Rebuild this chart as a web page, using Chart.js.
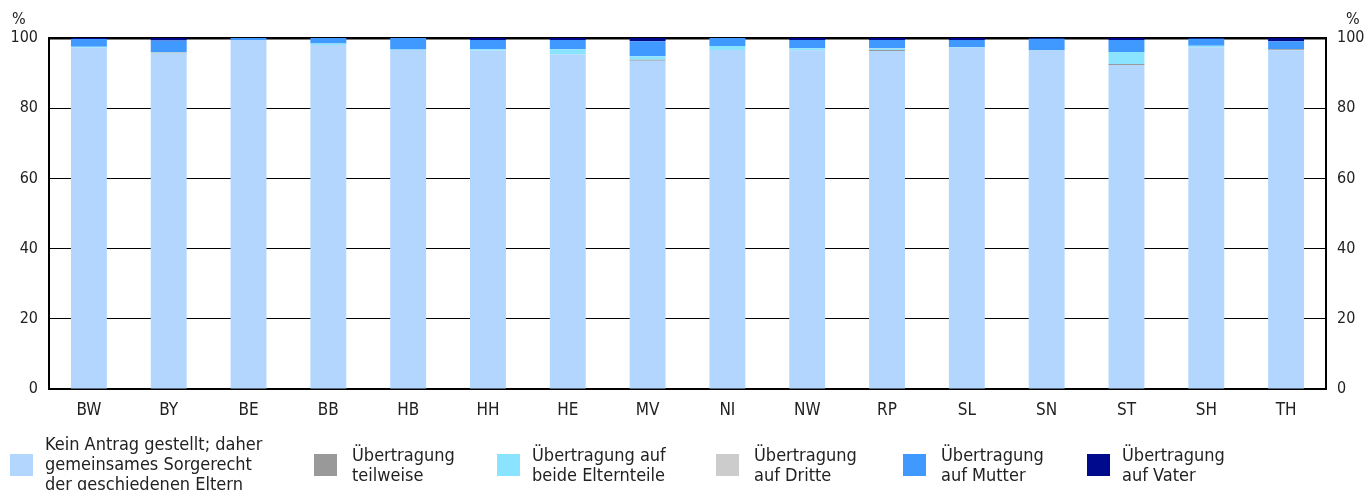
<!DOCTYPE html>
<html>
<head>
<meta charset="utf-8">
<script src="https://cdn.jsdelivr.net/npm/chart.js@4/dist/chart.umd.min.js"></script>
<style>
  html, body { margin: 0; padding: 0; background: #fff; }
  body { width: 1370px; height: 490px; overflow: hidden; position: relative;
         font-family: "Liberation Sans Narrow", "DejaVu Sans Condensed", sans-serif; }
  #wrap { position: absolute; left: 0; top: 0; width: 1370px; height: 490px; }
  #legend { position: absolute; left: 0; top: 434px; width: 1370px; height: 56px; }
  .box { position: absolute; width: 23px; height: 22px; }
  .txt { position: absolute; font-size: 18px; line-height: 20px; color: #222; white-space: nowrap; }
</style>
</head>
<body>
<div id="wrap"><canvas id="chart"></canvas></div>
<div id="legend"></div>
<script>
const categories = ["BW", "BY", "BE", "BB", "HB", "HH", "HE", "MV", "NI", "NW", "RP", "SL", "SN", "ST", "SH", "TH"];

const keinAntrag = [97.2, 95.5, 99.4, 98.0, 96.6, 96.4, 95.4, 93.5, 96.6, 96.5, 96.3, 97.2, 96.6, 92.3, 97.4, 96.5];
const teilweise  = [0, 0.1, 0, 0, 0, 0, 0, 0.3, 0, 0, 0.3, 0, 0, 0.3, 0, 0.3];
const beideEltern = [0.3, 0.1, 0, 0.4, 0.1, 0.4, 1.4, 1.0, 1.1, 0.6, 0.4, 0.2, 0, 3.4, 0.4, 0];
const aufDritte  = [0, 0.2, 0, 0, 0, 0, 0, 0, 0, 0, 0.1, 0, 0, 0, 0, 0];
const aufMutter  = [2.2, 3.4, 0.6, 1.6, 3.3, 2.6, 2.6, 4.3, 2.3, 2.3, 2.3, 2.0, 3.2, 3.4, 2.0, 2.3];
const aufVater   = [0.3, 0.7, 0, 0, 0, 0.6, 0.6, 0.9, 0, 0.6, 0.6, 0.6, 0.2, 0.6, 0.2, 0.9];

const yTicks = [0, 20, 40, 60, 80, 100];

const legendLines = [
  ["Kein Antrag gestellt; daher", "gemeinsames Sorgerecht", "der geschiedenen Eltern"],
  ["Übertragung", "teilweise"],
  ["Übertragung auf", "beide Elternteile"],
  ["Übertragung", "auf Dritte"],
  ["Übertragung", "auf Mutter"],
  ["Übertragung", "auf Vater"]
];

const FONT = "'Liberation Sans Narrow', 'DejaVu Sans Condensed', sans-serif";
const TEXT = "#222";

function ds(label, data, color) {
  return { label, data, backgroundColor: color, borderWidth: 0,
           barPercentage: 0.45, categoryPercentage: 1.0 };
}

const datasets = [
  ds(legendLines[0].join(" "), keinAntrag, "#b3d6ff"),
  ds(legendLines[1].join(" "), teilweise, "#999999"),
  ds(legendLines[2].join(" "), beideEltern, "#8ae4ff"),
  ds(legendLines[3].join(" "), aufDritte, "#cccccc"),
  ds(legendLines[4].join(" "), aufMutter, "#3f99ff"),
  ds(legendLines[5].join(" "), aufVater, "#000a8c")
];

// "%" above both y axes
const percentLabels = {
  id: "percentLabels",
  afterDraw(chart) {
    const { ctx, chartArea } = chart;
    ctx.save();
    ctx.font = "16px " + FONT;
    ctx.fillStyle = TEXT;
    ctx.textBaseline = "middle";
    ctx.textAlign = "left";
    ctx.fillText("%", 12, 20);
    ctx.fillText("%", chartArea.right + 20, 20);
    ctx.restore();
  }
};

const tickOpts = {
  color: TEXT,
  font: { family: FONT, size: 16 },
  stepSize: 20,
  padding: 11
};

new Chart(document.getElementById("chart"), {
  type: "bar",
  data: { labels: categories, datasets },
  options: {
    responsive: true,
    maintainAspectRatio: false,
    animation: false,
    layout: { padding: { top: 38, bottom: 61, left: 0, right: 0 } },
    plugins: { legend: { display: false }, tooltip: { enabled: false } },
    scales: {
      x: {
        stacked: true,
        grid: { display: false },
        border: { display: true, color: "#000", width: 2 },
        ticks: { color: TEXT, font: { family: FONT, size: 17 }, padding: 3 },
        afterFit(s) { s.height = 40; }
      },
      y: {
        stacked: true,
        min: 0, max: 100,
        position: "left",
        afterBuildTicks(s) { s.ticks = yTicks.map(v => ({ value: v })); },
        grid: {
          color: "#000",
          drawTicks: false,
          lineWidth: c => (c.tick && c.tick.value === 100 ? 2.5 : 1)
        },
        border: { display: true, color: "#000", width: 2 },
        ticks: tickOpts,
        afterFit(s) { s.width = 49; }
      },
      y2: {
        min: 0, max: 100,
        position: "right",
        afterBuildTicks(s) { s.ticks = yTicks.map(v => ({ value: v })); },
        grid: { display: false, drawTicks: false },
        border: { display: true, color: "#000", width: 2 },
        ticks: tickOpts,
        afterFit(s) { s.width = 44; }
      }
    }
  },
  plugins: [percentLabels]
});

// legend below the chart, lines wrapped like the original
const legendX = [10, 314, 497, 716, 903, 1087];
const textX = [45, 352, 532, 754, 941, 1122];
const legendEl = document.getElementById("legend");
datasets.forEach((d, i) => {
  const box = document.createElement("div");
  box.className = "box";
  box.style.left = legendX[i] + "px";
  box.style.top = "20px";
  box.style.background = d.backgroundColor;
  legendEl.appendChild(box);
  const t = document.createElement("div");
  t.className = "txt";
  t.style.left = textX[i] + "px";
  t.style.top = (legendLines[i].length > 2 ? 0 : 11) + "px";
  t.innerHTML = legendLines[i].join("<br>");
  legendEl.appendChild(t);
});
</script>
</body>
</html>
